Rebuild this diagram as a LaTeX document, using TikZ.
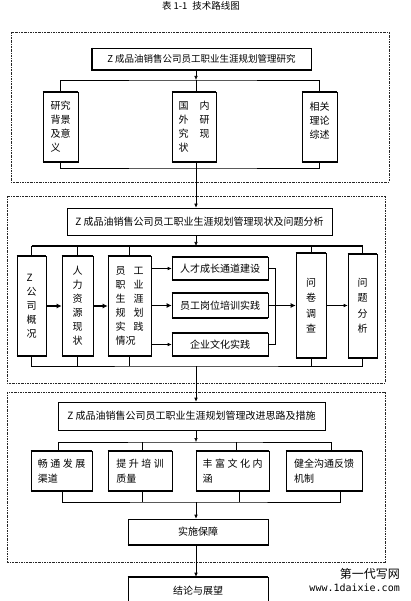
\documentclass[tikz,border=0pt]{standalone}
\usepackage{fontspec}
\setmainfont{Noto Sans CJK SC}
\newfontfamily\wmfont{Noto Sans CJK SC}
\newfontfamily\wmmono{DejaVu Sans Mono}
\usetikzlibrary{arrows.meta,calc}
\newcommand{\gp}{\hspace{2.5pt}}
\newcommand{\tbedge}[1]{\draw[thk] (#1.north west)--(#1.north east); \draw[thk] (#1.south west)--(#1.south east);}
\newcommand{\bedge}[1]{\draw[mthk] (#1.north west)--(#1.north east); \draw[thk] (#1.south west)--(#1.south east);}
\tikzset{
 box/.style={draw, line width=0.6pt, inner sep=0pt, font=\fontsize{10}{14}\selectfont, align=center},
 frame/.style={draw=black!85, line width=0.7pt, dash pattern=on 2pt off 1pt on 0.6pt off 1pt},
 ln/.style={line width=0.6pt},
 thk/.style={line width=1.8pt},
 mthk/.style={line width=1.1pt},
 arr/.style={ln, -{Latex[length=4pt,width=3.6pt]}},
 tarr/.style={thk, -{Latex[length=5pt,width=5pt]}},
}
\begin{document}
\begin{tikzpicture}[x=1pt,y=-1pt]
\useasboundingbox (0,0) rectangle (411,601);
\node[font=\fontsize{9.5}{11}\selectfont] (title) at (201,6) {表 1-1\hspace{5pt}技术路线图};
\coordinate (sp) at (196,0);
% ---------- section 1
\draw[frame] (11,32) rectangle (389,182);
\node[box, minimum width=219pt, minimum height=22pt, font=\fontsize{9.5}{12}\selectfont] (t1) at (201.5,59) {Z 成品油销售公司员工职业生涯规划管理研究};
\draw[thk] (t1.north west)--(t1.south west)--(t1.south east);
\coordinate (h1) at (196,80);
\coordinate (h2) at (196,168);
\draw[arr] (t1.south -| sp) -- (h1);
\node[box, align=left, minimum width=35pt, minimum height=70pt] (a1) at (60.5,127) {研究\\背景\\及意\\义};
\node[box, align=left, minimum width=44pt, minimum height=70pt] (a2) at (194,127) {国\hspace{11pt}内\\外\hspace{11pt}研\\究\hspace{11pt}现\\状};
\node[box, align=left, minimum width=35pt, minimum height=70pt] (a3) at (319.5,127) {相关\\理论\\综述\\\mbox{}};
\tbedge{a1}\tbedge{a2}\tbedge{a3}
\draw[ln] (a1.north) |- (h1) -| (a3.north);
\draw[ln] (h1) -- (a2.north -| sp);
\draw[ln] (a1.south) |- (h2) -| (a3.south);
% ---------- section 2
\draw[frame] (7,196) rectangle (385,383);
\node[box, minimum width=265pt, minimum height=27pt] (t2) at (199.5,221.5) {Z 成品油销售公司员工职业生涯规划管理现状及问题分析};
\draw[arr] (a2.south -| sp) -- (t2.north -| sp);
\coordinate (h3) at (196,246);
\coordinate (h4) at (196,366);
\draw[arr] (t2.south -| sp) -- (h3);
\node[box, align=left, minimum width=29pt, minimum height=100pt] (b1) at (31.5,306) {Z\\公\\司\\概\\况};
\node[box, minimum width=31pt, minimum height=100pt] (b2) at (77.5,306) {人\\力\\资\\源\\现\\状};
\node[box, align=left, minimum width=43pt, minimum height=100pt] (b3) at (129.5,306) {员\hspace{8pt}工\\职\hspace{8pt}业\\生\hspace{8pt}涯\\规\hspace{8pt}划\\实\hspace{8pt}践\\情况};
\node[box, minimum width=96pt, minimum height=23pt] (s1) at (220,268.5) {人才成长通道建设};
\node[box, minimum width=96pt, minimum height=24pt] (s2) at (220,305.5) {员工岗位培训实践};
\node[box, minimum width=96pt, minimum height=23pt] (s3) at (220,344.5) {企业文化实践};
\node[box, minimum width=30pt, minimum height=105pt, font=\fontsize{10}{15.5}\selectfont] (q) at (311,305.5) {问\\卷\\调\\查};
\node[box, minimum width=29pt, minimum height=104pt, font=\fontsize{10}{15.5}\selectfont] (r) at (362.5,306) {问\\题\\分\\析};
\bedge{b1}\bedge{b2}\bedge{b3}
\tbedge{s1}\tbedge{s2}\tbedge{s3}\tbedge{q}\tbedge{r}
\foreach \n in {b1,b2,b3,q,r} {\draw[ln] (\n.north) -- (\n.north |- h3);}
\draw[thk] (b1.north |- h3) -- (r.north |- h3);
\draw[tarr] (b1) -- (b2);
\draw[tarr] (b2) -- (b3);
\draw[arr] (b3.east |- s1) -- (s1.west);
\draw[tarr] (b3.east |- s2) -- (s2.west);
\draw[arr] (b3.east |- s3) -- (s3.west);
\coordinate (br) at (275,0);
\draw[ln] (s1.east) -| (br |- s3.east) -- (s3.east);
\draw[tarr] (s2.east) -- (q.west |- s2.east);
\draw[arr] (q.east) -- (r.west |- q.east);
\draw[ln] (b1.south) |- (h4) -| (r.south);
\foreach \n in {b2,b3,q} {\draw[ln] (\n.south) -- (\n.south |- h4);}
% ---------- section 3
\draw[frame] (7,392) rectangle (385,562);
\node[box, minimum width=267pt, minimum height=28pt] (t3) at (191.5,416) {Z 成品油销售公司员工职业生涯规划管理改进思路及措施};
\draw[arr] (h4) -- (t3.north -| sp);
\coordinate (h5) at (196,442);
\coordinate (h6) at (196,502);
\draw[arr] (t3.south -| sp) -- (h5);
\node[box, align=left, minimum width=61pt, minimum height=40pt, font=\fontsize{10}{15}\selectfont] (d1) at (61.5,471) {畅\gp 通\gp 发\gp 展\\渠道};
\node[box, align=left, minimum width=64pt, minimum height=40pt, font=\fontsize{10}{15}\selectfont] (d2) at (140,471) {提\gp 升\gp 培\gp 训\\质量};
\node[box, align=left, minimum width=73pt, minimum height=40pt, font=\fontsize{10}{15}\selectfont] (d3) at (232.5,471) {丰\gp 富\gp 文\gp 化\gp 内\\涵};
\node[box, align=left, minimum width=76pt, minimum height=40pt, font=\fontsize{10}{15}\selectfont] (d4) at (324,471) {健全沟通反馈\\机制};
\tbedge{d1}\tbedge{d2}\tbedge{d3}\tbedge{d4}
\draw[ln] ([xshift=-3.5pt]d1.north) |- (h5) -| ([xshift=7pt]d4.north);
\draw[ln] ([xshift=2pt]d2.north) -- ([xshift=2pt]d2.north |- h5);
\draw[ln] ([xshift=3.5pt]d3.north) -- ([xshift=3.5pt]d3.north |- h5);
\draw[ln] ([xshift=0.5pt]d1.south) |- (h6) -| ([xshift=16pt]d4.south);
\draw[ln] ([xshift=2pt]d2.south) -- ([xshift=2pt]d2.south |- h6);
\draw[ln] ([xshift=6.5pt]d3.south) -- ([xshift=6.5pt]d3.south |- h6);
\node[box, minimum width=140pt, minimum height=26pt] (e) at (198,532) {实施保障};
\node[box, minimum width=140pt, minimum height=28pt] (f) at (198,591) {结论与展望};
\draw[thk] (e.south west)--(e.south east);
\draw[thk] (f.north west)--(f.north east);
\draw[arr] (h6) -- (e.north -| sp);
\draw[arr] (e.south -| sp) -- (f.north -| sp);
% watermark
\node[font=\wmfont\fontsize{12}{12}\selectfont, anchor=east, inner sep=0pt] (wm1) at (400,574) {第一代写网};
\node[font=\wmmono\fontsize{10}{10}\selectfont, anchor=east, inner sep=0pt] (wm2) at (400,588) {www.1daixie.com};
\end{tikzpicture}
\end{document}
